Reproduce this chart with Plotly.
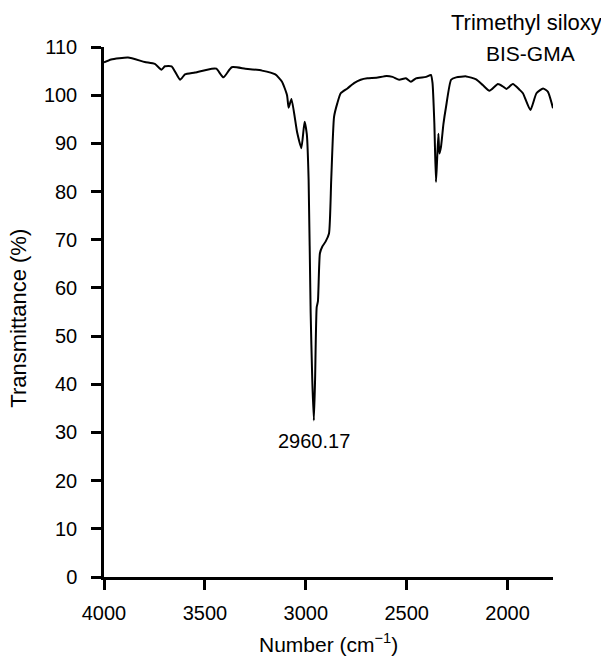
import plotly.graph_objects as go

wavenumber = [4000, 3965, 3881, 3798, 3748, 3715, 3698, 3665, 3623, 3599, 3549, 3466, 3443,
              3408, 3367, 3300, 3217, 3151, 3118, 3093, 3085, 3071, 3043, 3022, 3006, 2995,
              2986, 2976, 2968, 2960, 2954, 2946, 2940, 2930, 2918, 2902, 2885, 2874, 2860,
              2844, 2827, 2794, 2761, 2728, 2695, 2650, 2600, 2570, 2537, 2504, 2479, 2454,
              2404, 2380, 2372, 2363, 2355, 2350, 2343, 2338, 2330, 2318, 2305, 2280, 2255,
              2205, 2156, 2123, 2090, 2048, 2023, 2006, 1974, 1940, 1924, 1887, 1857, 1824,
              1800, 1775]
transmittance = [106.8, 107.4, 107.8, 106.9, 106.5, 105.3, 106.0, 106.0, 103.2, 104.3, 104.7,
                 105.5, 105.5, 103.7, 105.8, 105.5, 105.1, 104.3, 102.8, 100.0, 97.4, 99.2,
                 92.3, 89.0, 94.5, 91.9, 82.4, 55.0, 41.0, 32.5, 41.0, 56.0, 57.2, 67.2, 68.6,
                 69.6, 71.3, 82.4, 95.5, 98.3, 100.4, 101.4, 102.5, 103.2, 103.5, 103.6, 104.0,
                 103.8, 103.2, 103.5, 102.8, 103.5, 103.8, 104.2, 102.5, 94.2, 82.0, 86.0,
                 92.0, 87.9, 89.3, 94.0, 97.6, 103.2, 103.7, 103.9, 103.3, 102.1, 100.9, 102.3,
                 101.8, 101.3, 102.3, 101.1, 100.4, 96.9, 100.4, 101.4, 100.7, 97.3]

x_ticks = [4000, 3500, 3000, 2500, 2000]
y_ticks = [0, 10, 20, 30, 40, 50, 60, 70, 80, 90, 100, 110]

peak_label = "2960.17"
peak_x = 2960
peak_label_y = 28.2

FONT = "Liberation Sans, Arial, sans-serif"

fig = go.Figure()
fig.add_trace(go.Scatter(x=wavenumber, y=transmittance, mode="lines",
                         line=dict(color="black", width=2, shape="spline", smoothing=0.5),
                         showlegend=False, hoverinfo="skip"))

fig.update_layout(
    width=601, height=652,
    margin=dict(l=96, r=56, t=39, b=83, autoexpand=False),
    paper_bgcolor="white", plot_bgcolor="white",
    font=dict(family=FONT, size=20, color="black"),
    xaxis=dict(range=[4000, 1775], tickvals=x_ticks, ticktext=[str(v) for v in x_ticks],
               showline=True, linecolor="black", linewidth=2.5, ticks="outside",
               ticklen=10, tickwidth=2.5, tickcolor="black", showgrid=False, zeroline=False,
               ticklabelstandoff=6, tickfont=dict(size=20, family=FONT)),
    yaxis=dict(range=[0, 110], tickvals=y_ticks, showline=True, linecolor="black", linewidth=2.5,
               ticks="outside", ticklen=10, tickwidth=2.5, tickcolor="black", showgrid=False,
               zeroline=False, ticklabelstandoff=10, tickfont=dict(size=20, family=FONT)),
    annotations=[
        dict(text="Transmittance (%)", xref="paper", yref="paper", x=-0.19, y=0.4887,
             xanchor="center", yanchor="middle", textangle=-90, showarrow=False,
             font=dict(size=22, family=FONT)),
        dict(text="Number (cm<sup>−1</sup>)", xref="paper", yref="paper", x=0.501, y=-0.1245,
             xanchor="center", yanchor="middle", showarrow=False, font=dict(size=21, family=FONT)),
        dict(text="Trimethyl siloxy", xref="paper", yref="paper", x=1.114, y=1.047,
             xanchor="right", yanchor="middle", showarrow=False, font=dict(size=22, family=FONT)),
        dict(text="BIS-GMA", xref="paper", yref="paper", x=0.951, y=0.9868,
             xanchor="center", yanchor="middle", showarrow=False, font=dict(size=21, family=FONT)),
        dict(text=peak_label, x=peak_x, y=peak_label_y, xref="x", yref="y", xanchor="center",
             yanchor="middle", showarrow=False, font=dict(size=20, family=FONT)),
    ],
)

fig.write_html("out.html")
